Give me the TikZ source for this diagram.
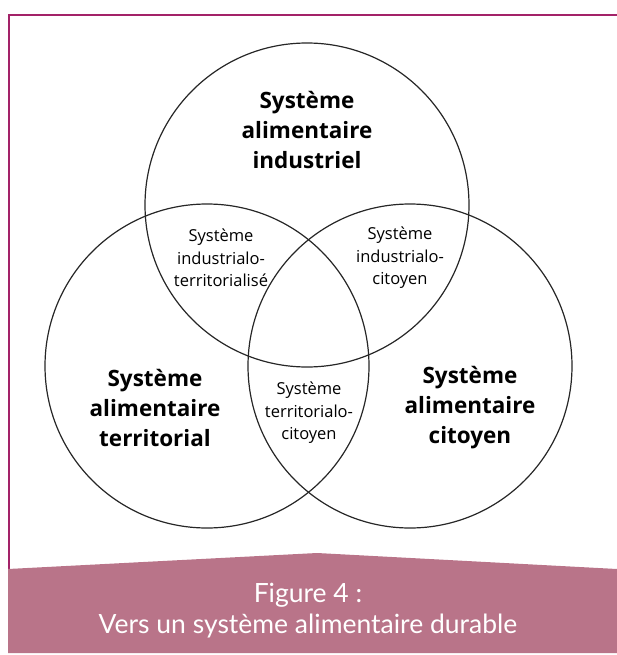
\documentclass[tikz,border=0pt]{standalone}
\usepackage{fontspec}
\setmainfont{Open Sans}
\newfontfamily\captionfont{Lato}
\usetikzlibrary{positioning}
\definecolor{framepink}{RGB}{163,34,104}
\definecolor{bannerpink}{RGB}{185,116,137}
\tikzset{
  ring/.style={draw=black!85, line width=1.2pt, circle, minimum size=324pt, inner sep=0pt},
  bigtext/.style={align=center, font=\bfseries\fontsize{22.5}{30}\selectfont},
  smalltext/.style={align=center, font=\fontsize{16.5}{22.5}\selectfont},
  captext/.style={white, anchor=base, font=\captionfont\fontsize{26.5}{31}\selectfont},
}
\begin{document}
\begin{tikzpicture}[x=1pt, y=-1pt]
	\useasboundingbox (0,0) rectangle (617,655);
	% frame
	\coordinate (fTL) at (9,15.5);
	\coordinate (fTR) at (617,15.5);
	\coordinate (fBL) at (9,569);
	\draw[framepink, line width=2pt] (fBL) -- (fTL) -- (fTR);

	% circles
	\node[ring] (indus) at (307,205) {};
	\node[ring] (terri) at (207,366) {};
	\node[ring] (citoy) at (410,366) {};

	% main labels
	\node[bigtext] (Lindus) at (307,130) {Système\\alimentaire\\industriel};
	\node[bigtext] (Lterri) at (155,408) {Système\\alimentaire\\territorial};
	\node[bigtext] (Lcitoy) at (470,408) {Système\\alimentaire\\citoyen};

	% overlaps
	\node[smalltext] (Lit) at (221,258) {Système\\industrialo-\\territorialisé};
	\node[smalltext] (Lic) at (400,258) {Système\\industrialo-\\citoyen};
	\node[smalltext] (Ltc) at (309,413) {Système\\territorialo-\\citoyen};

	% caption banner
	\fill[bannerpink] (8,569) -- (317,553) -- (617,569) -- (617,653) -- (8,653) -- cycle;
	\node[captext] (capA) at (308,602) {Figure 4 :};
	\node[captext] (capB) at (308,633) {Vers un système alimentaire durable};
\end{tikzpicture}
\end{document}
